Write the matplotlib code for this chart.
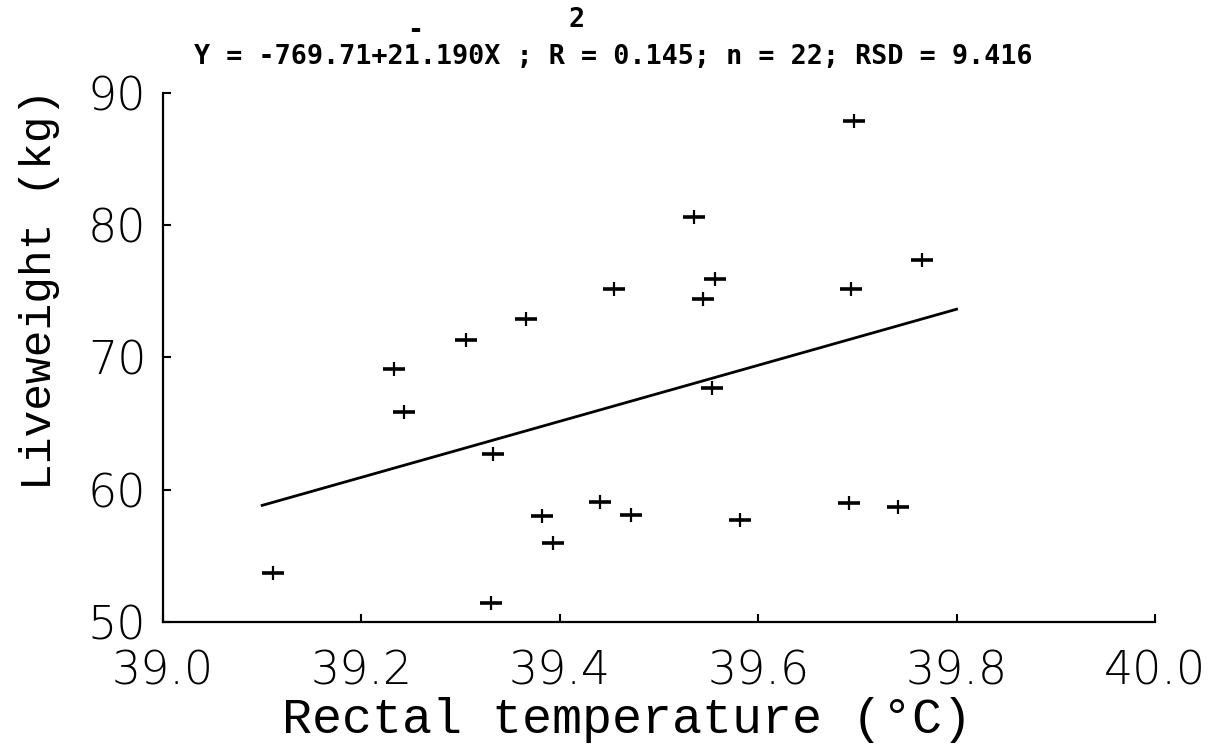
import matplotlib
matplotlib.use("Agg")
import matplotlib.pyplot as plt
import numpy as np

# Data
temperature = [39.111, 39.233, 39.243, 39.305, 39.333, 39.331, 39.366, 39.382, 39.393,
               39.441, 39.455, 39.472, 39.535, 39.544, 39.553, 39.556, 39.582, 39.692,
               39.694, 39.697, 39.741, 39.765]
liveweight = [53.7, 69.1, 65.9, 71.3, 62.7, 51.4, 72.9, 58.0, 56.0,
              59.1, 75.2, 58.1, 80.6, 74.4, 67.7, 75.9, 57.7, 59.0,
              75.2, 87.9, 58.7, 77.4]

fit_intercept = -769.71
fit_slope = 21.190
fit_x = [39.1, 39.8]

x_ticks = [39.0, 39.2, 39.4, 39.6, 39.8, 40.0]
x_ticklabels = ["39.0", "39.2", "39.4", "39.6", "39.8", "40.0"]
y_ticks = [50, 60, 70, 80, 90]
y_ticklabels = ["50", "60", "70", "80", "90"]

title_text = "Y = -769.71+21.190X ; R = 0.145; n = 22; RSD = 9.416"

W, H = 1208, 748
fig = plt.figure(figsize=(W / 100, H / 100), dpi=100)
ax = fig.add_axes([163 / W, 1 - 622 / H, 992 / W, (622 - 93) / H])

fit_y = [fit_intercept + fit_slope * x for x in fit_x]
ax.plot(fit_x, fit_y, color="black", lw=2.0)

ax.plot(temperature, liveweight, linestyle="none", marker="_", markersize=16,
        markeredgewidth=2.6, color="black")
ax.plot(temperature, liveweight, linestyle="none", marker="|", markersize=10,
        markeredgewidth=1.6, color="black")

ax.set_xlim(39.0, 40.0)
ax.set_ylim(50, 90)
ax.set_xticks(x_ticks)
ax.set_xticklabels(x_ticklabels)
ax.set_yticks(y_ticks)
ax.set_yticklabels(y_ticklabels)

for s in ["top", "right"]:
    ax.spines[s].set_visible(False)
for s in ["left", "bottom"]:
    ax.spines[s].set_linewidth(1.6)
    ax.spines[s].set_color("black")

ax.tick_params(axis="both", direction="in", length=6, width=1.5, color="black")
ax.tick_params(axis="x", pad=20)
ax.tick_params(axis="y", pad=12)
for lab in ax.get_xticklabels() + ax.get_yticklabels():
    lab.set_fontfamily("DejaVu Sans")
    lab.set_fontweight("light")
    lab.set_fontsize(33)
    lab.set_color("black")

fig.text(627 / W, 1 - 720 / H, "Rectal temperature (°C)", ha="center", va="center",
         family="Liberation Mono", size=36, color="black")
fig.text(40 / W, 1 - 289 / H, "Liveweight (kg)", ha="center", va="center",
         rotation=90, family="Liberation Mono", size=32, color="black")

title_font = dict(family="DejaVu Sans Mono", weight="bold", size=19.3, color="black")
fig.text(613 / W, 1 - 57 / H, title_text, ha="center", va="center", **title_font)
fig.text(415 / W, 1 - 31 / H, "-", ha="center", va="center", **title_font)
fig.text(577 / W, 1 - 20 / H, "2", ha="center", va="center", **title_font)

fig.savefig("out.png", dpi=100, facecolor="white")
